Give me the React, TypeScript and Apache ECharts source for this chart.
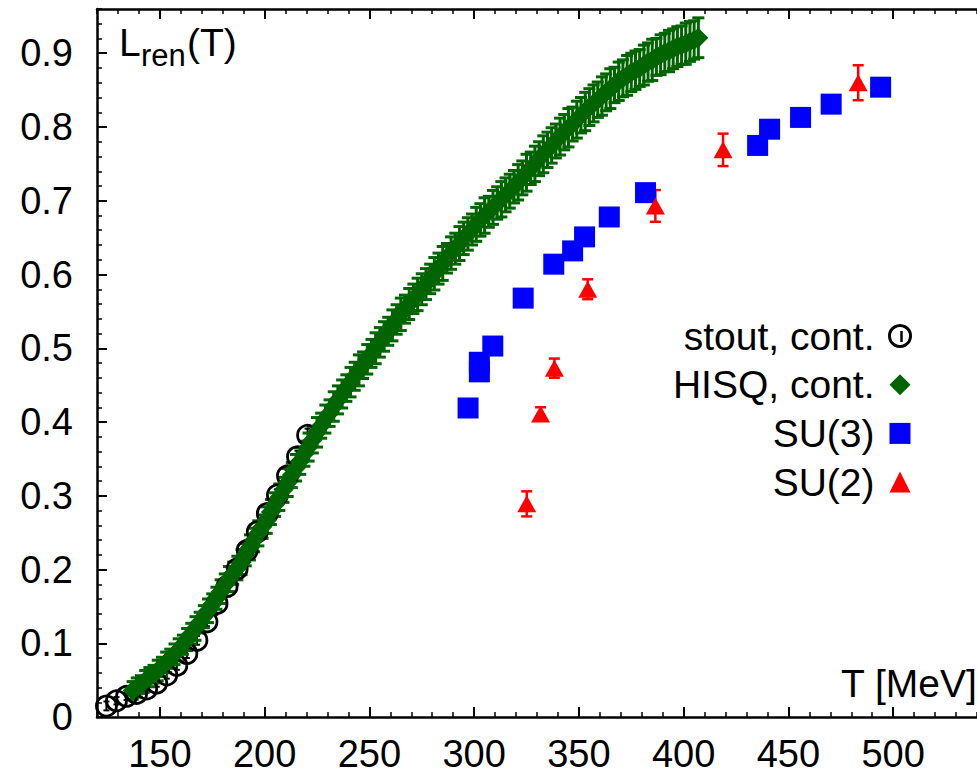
import React, { useEffect, useRef } from 'react';
import * as echarts from 'echarts';

// ---- axis ticks ----
const xMajorTicks = [150, 200, 250, 300, 350, 400, 450, 500];
const yMajorTicks = [0, 0.1, 0.2, 0.3, 0.4, 0.5, 0.6, 0.7, 0.8, 0.9];
const yTickLabels = ['0', '0.1', '0.2', '0.3', '0.4', '0.5', '0.6', '0.7', '0.8', '0.9'];

// ---- stout, continuum (open circles) ----
const stoutT = [124.5, 129.3, 134.1, 138.9, 143.7, 148.5, 153.3, 158.1, 162.9, 167.7, 172.5, 177.3, 182.1, 186.9, 191.7, 196.5, 201.3, 206.1, 210.9, 215.7, 220.5];
const stoutL = [0.015, 0.022, 0.028, 0.032, 0.038, 0.046, 0.057, 0.070, 0.086, 0.104, 0.129, 0.154, 0.177, 0.201, 0.226, 0.251, 0.276, 0.301, 0.327, 0.353, 0.382];
const stoutErr = [0.006, 0.005, 0.005, 0.005, 0.005, 0.005, 0.005, 0.006, 0.006, 0.006, 0.006, 0.007, 0.007, 0.007, 0.007, 0.007, 0.008, 0.008, 0.008, 0.008, 0.009];

// ---- HISQ, continuum (green diamonds, dense) ----
const hisqT = [
  137, 139, 141, 143, 145, 147, 149, 151, 153, 155,
  157, 159, 161, 163, 165, 167, 169, 171, 173, 175,
  177, 179, 181, 183, 185, 187, 189, 191, 193, 195,
  197, 199, 201, 203, 205, 207, 209, 211, 213, 215,
  217, 219, 221, 223, 225, 227, 229, 231, 233, 235,
  237, 239, 241, 243, 245, 247, 249, 251, 253, 255,
  257, 259, 261, 263, 265, 267, 269, 271, 273, 275,
  277, 279, 281, 283, 285, 287, 289, 291, 293, 295,
  297, 299, 301, 303, 305, 307, 309, 311, 313, 315,
  317, 319, 321, 323, 325, 327, 329, 331, 333, 335,
  337, 339, 341, 343, 345, 347, 349, 351, 353, 355,
  357, 359, 361, 363, 365, 367, 369, 371, 373, 375,
  377, 379, 381, 383, 385, 387, 389, 391, 393, 395,
  397, 399, 401, 403, 405, 407,
];
const hisqL = [
  0.036, 0.040, 0.044, 0.049, 0.054, 0.058, 0.063, 0.068, 0.074, 0.079,
  0.085, 0.091, 0.098, 0.105, 0.113, 0.120, 0.128, 0.136, 0.144, 0.153,
  0.161, 0.170, 0.179, 0.187, 0.195, 0.202, 0.210, 0.220, 0.230, 0.240,
  0.249, 0.258, 0.267, 0.278, 0.288, 0.298, 0.308, 0.318, 0.328, 0.338,
  0.347, 0.357, 0.366, 0.376, 0.386, 0.395, 0.404, 0.412, 0.421, 0.430,
  0.438, 0.446, 0.454, 0.462, 0.470, 0.477, 0.485, 0.493, 0.500, 0.508,
  0.516, 0.523, 0.531, 0.539, 0.546, 0.553, 0.560, 0.567, 0.573, 0.580,
  0.587, 0.594, 0.601, 0.608, 0.615, 0.622, 0.629, 0.635, 0.642, 0.649,
  0.655, 0.661, 0.668, 0.674, 0.680, 0.685, 0.691, 0.697, 0.702, 0.708,
  0.713, 0.719, 0.725, 0.731, 0.738, 0.744, 0.750, 0.757, 0.763, 0.769,
  0.775, 0.781, 0.787, 0.793, 0.799, 0.804, 0.810, 0.816, 0.821, 0.827,
  0.832, 0.837, 0.842, 0.847, 0.852, 0.857, 0.862, 0.866, 0.870, 0.874,
  0.877, 0.880, 0.884, 0.888, 0.891, 0.895, 0.898, 0.901, 0.903, 0.906,
  0.909, 0.911, 0.913, 0.916, 0.918, 0.921,
];
const hisqErr = [
  0.012, 0.013, 0.012, 0.014, 0.013, 0.012, 0.014, 0.013, 0.014, 0.013,
  0.014, 0.015, 0.013, 0.015, 0.014, 0.016, 0.014, 0.015, 0.016, 0.014,
  0.015, 0.016, 0.015, 0.017, 0.015, 0.016, 0.017, 0.015, 0.017, 0.016,
  0.017, 0.016, 0.018, 0.017, 0.016, 0.018, 0.017, 0.019, 0.017, 0.018,
  0.018, 0.017, 0.019, 0.018, 0.020, 0.017, 0.019, 0.018, 0.020, 0.019,
  0.019, 0.018, 0.020, 0.019, 0.021, 0.018, 0.020, 0.019, 0.021, 0.020,
  0.020, 0.019, 0.021, 0.020, 0.022, 0.019, 0.021, 0.020, 0.022, 0.021,
  0.021, 0.020, 0.022, 0.021, 0.023, 0.020, 0.022, 0.021, 0.023, 0.022,
  0.022, 0.021, 0.023, 0.022, 0.024, 0.021, 0.023, 0.022, 0.024, 0.023,
  0.023, 0.022, 0.024, 0.023, 0.025, 0.022, 0.024, 0.023, 0.025, 0.024,
  0.024, 0.023, 0.025, 0.024, 0.026, 0.023, 0.025, 0.024, 0.026, 0.025,
  0.025, 0.024, 0.026, 0.025, 0.027, 0.024, 0.026, 0.025, 0.027, 0.026,
  0.026, 0.025, 0.027, 0.026, 0.028, 0.025, 0.027, 0.026, 0.028, 0.027,
  0.027, 0.026, 0.028, 0.027, 0.026, 0.027,
];

// ---- SU(3) (blue squares) ----
const su3T = [297.1, 302.5, 302.5, 308.9, 323.4, 338.0, 347.0, 352.7, 364.5, 381.8, 435.3, 441.0, 455.8, 470.4, 494.0];
const su3L = [0.419, 0.468, 0.481, 0.503, 0.568, 0.614, 0.632, 0.651, 0.678, 0.711, 0.775, 0.797, 0.813, 0.831, 0.854];

// ---- SU(2) (red triangles) ----
const su2T = [325.1, 331.7, 338.3, 354.2, 386.5, 418.8, 483.3];
const su2L = [0.289, 0.411, 0.473, 0.580, 0.693, 0.769, 0.860];
const su2Err = [0.017, 0.009, 0.013, 0.0135, 0.0215, 0.022, 0.0237];

const FONT = '"Liberation Sans", Arial, Helvetica, sans-serif';
const GREEN = '#006400';
const BLUE = '#0000ff';
const RED = '#ff0000';

function errorBars(name: string, T: number[], L: number[], E: number[], color: string, capW: number, lw: number) {
  return {
    type: 'custom',
    name,
    silent: true,
    data: T.map((t, i) => [t, L[i], E[i]]),
    encode: { x: 0, y: 1 },
    renderItem: (_params: any, api: any) => {
      const x = api.value(0);
      const y = api.value(1);
      const e = api.value(2);
      const p1 = api.coord([x, y + e]);
      const p2 = api.coord([x, y - e]);
      const h = capW / 2;
      const style = { stroke: color, lineWidth: lw, fill: 'none' };
      return {
        type: 'group',
        children: [
          { type: 'line', shape: { x1: p1[0], y1: p1[1], x2: p2[0], y2: p2[1] }, style },
          { type: 'line', shape: { x1: p1[0] - h, y1: p1[1], x2: p1[0] + h, y2: p1[1] }, style },
          { type: 'line', shape: { x1: p2[0] - h, y1: p2[1], x2: p2[0] + h, y2: p2[1] }, style },
        ],
      };
    },
  };
}

const axisLineStyle = { color: '#000', width: 2.5 };

export default function App() {
  const ref = useRef<HTMLDivElement>(null);
  useEffect(() => {
    if (!ref.current) return;
    const chart = echarts.init(ref.current, null, { renderer: 'svg' });
    const X_MIN = 120, X_MAX = 540, Y_MIN = 0, Y_MAX = 0.96;
    const majorX = (position: string, labels: boolean) => ({
      type: 'value', position, min: X_MIN, max: X_MAX,
      axisLine: { show: true, lineStyle: axisLineStyle },
      axisTick: { show: true, inside: true, length: 10, lineStyle: { color: '#000', width: 2 }, customValues: xMajorTicks },
      axisLabel: { show: labels, customValues: xMajorTicks, fontSize: 38, lineHeight: 34, color: '#000', fontFamily: FONT, margin: 20 },
      splitLine: { show: false },
    });
    const minorX = (position: string) => ({
      type: 'value', position, min: X_MIN, max: X_MAX, interval: 10,
      axisLine: { show: false },
      axisTick: { show: true, inside: true, length: 5, lineStyle: { color: '#000', width: 1.5 } },
      axisLabel: { show: false },
      splitLine: { show: false },
    });
    const option: any = {
      animation: false,
      textStyle: { fontFamily: FONT },
      grid: { left: 97, top: 9, right: -9, bottom: 59, containLabel: false },
      xAxis: [majorX('bottom', true), minorX('bottom'), majorX('top', false), minorX('top')],
      yAxis: [
        {
          type: 'value', position: 'left', min: Y_MIN, max: Y_MAX,
          axisLine: { show: true, lineStyle: axisLineStyle },
          axisTick: { show: true, inside: true, length: 10, lineStyle: { color: '#000', width: 2 }, customValues: yMajorTicks },
          axisLabel: {
            customValues: yMajorTicks, fontSize: 38, color: '#000', fontFamily: FONT, margin: 24,
            formatter: (v: number) => {
              const i = yMajorTicks.findIndex((t) => Math.abs(t - v) < 1e-6);
              return i >= 0 ? yTickLabels[i] : '';
            },
          },
          splitLine: { show: false },
        },
        {
          type: 'value', position: 'left', min: Y_MIN, max: Y_MAX, interval: 0.02,
          axisLine: { show: false },
          axisTick: { show: true, inside: true, length: 5, lineStyle: { color: '#000', width: 1.5 } },
          axisLabel: { show: false },
          splitLine: { show: false },
        },
      ],
      legend: {
        orient: 'vertical',
        align: 'right',
        right: 65,
        top: 316,
        padding: 0,
        itemWidth: 21,
        itemHeight: 21,
        itemGap: 8.7,
        selectedMode: false,
        textStyle: { fontSize: 39, color: '#000', fontFamily: FONT, lineHeight: 40, padding: [0, 10, 0, 0] },
        data: [
          { name: 'stout, cont.', icon: 'circle', itemStyle: { color: 'rgba(0,0,0,0)', borderColor: '#000', borderWidth: 3 } },
          { name: 'HISQ, cont.', icon: 'diamond', itemStyle: { color: GREEN } },
          { name: 'SU(3)', icon: 'rect', itemStyle: { color: BLUE } },
          { name: 'SU(2)', icon: 'triangle', itemStyle: { color: RED } },
        ],
      },
      graphic: [
        { type: 'line', shape: { x1: 901.5, y1: 331, x2: 901.5, y2: 342 }, style: { stroke: '#000', lineWidth: 2.5 } },
        { type: 'text', x: 119, y: 42, style: { text: 'L', fontSize: 39, fill: '#000', fontFamily: FONT, verticalAlign: 'middle' } },
        { type: 'text', x: 141, y: 55, style: { text: 'ren', fontSize: 31, fill: '#000', fontFamily: FONT, verticalAlign: 'middle' } },
        { type: 'text', x: 187, y: 42, style: { text: '(T)', fontSize: 39, fill: '#000', fontFamily: FONT, verticalAlign: 'middle' } },
        { type: 'text', x: 841, y: 683, style: { text: 'T [MeV]', fontSize: 39, fill: '#000', fontFamily: FONT, verticalAlign: 'middle' } },
      ],
      series: [
        errorBars('stout err', stoutT, stoutL, stoutErr, '#000', 6, 2),
        {
          type: 'scatter', name: 'stout, cont.', symbol: 'circle', symbolSize: 20,
          itemStyle: { color: 'rgba(0,0,0,0)', borderColor: '#000', borderWidth: 2.8, opacity: 1 },
          data: stoutT.map((t, i) => [t, stoutL[i]]),
        },
        errorBars('HISQ err', hisqT, hisqL, hisqErr, GREEN, 12, 3),
        {
          type: 'scatter', name: 'HISQ, cont.', symbol: 'diamond', symbolSize: 20,
          itemStyle: { color: GREEN, opacity: 1 },
          data: hisqT.map((t, i) => [t, hisqL[i]]),
        },
        {
          type: 'scatter', name: 'SU(3)', symbol: 'rect', symbolSize: 21,
          itemStyle: { color: BLUE, opacity: 1 },
          data: su3T.map((t, i) => [t, su3L[i]]),
        },
        errorBars('SU(2) err', su2T, su2L, su2Err, RED, 11, 2.5),
        {
          type: 'scatter', name: 'SU(2)', symbol: 'triangle', symbolSize: [19, 17],
          itemStyle: { color: RED, opacity: 1 },
          data: su2T.map((t, i) => [t, su2L[i]]),
        },
      ],
    };
    chart.setOption(option);
    return () => chart.dispose();
  }, []);
  return <div ref={ref} style={{ position: 'fixed', left: 0, top: 0, width: 977, height: 776, background: '#fff' }} />;
}
